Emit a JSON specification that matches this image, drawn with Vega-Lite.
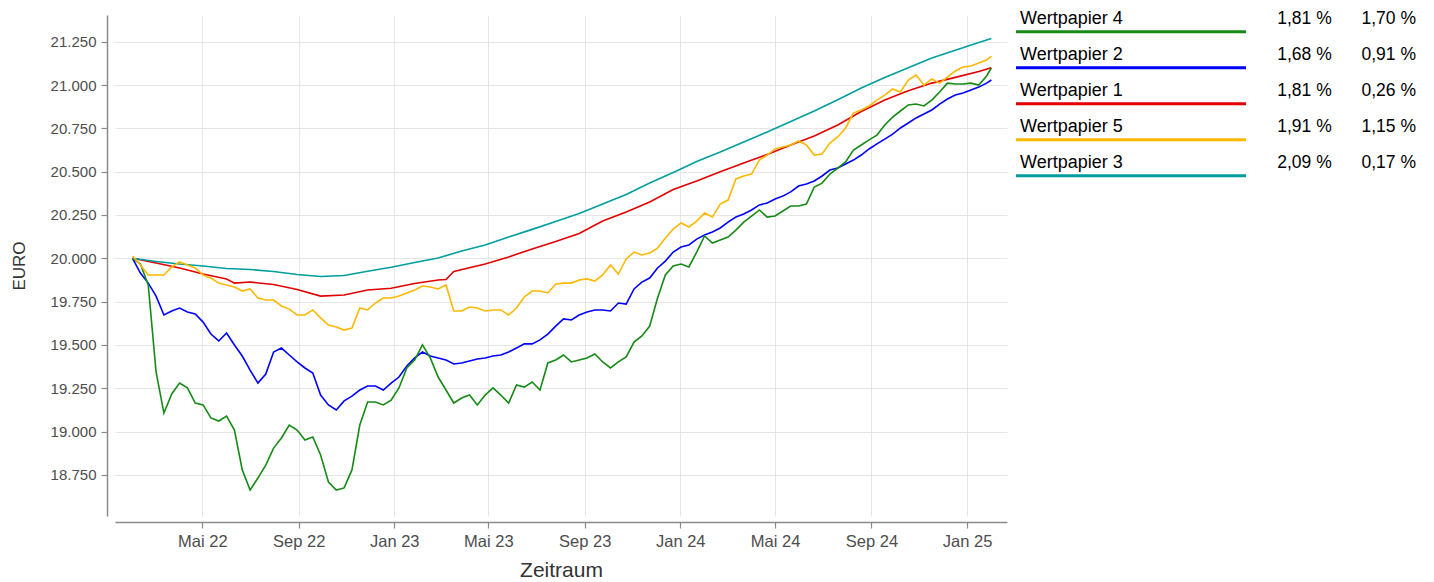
{
  "$schema": "https://vega.github.io/schema/vega-lite/v6.json",
  "autosize": {"type": "none"},
  "width": 892,
  "height": 501,
  "padding": {"left": 115, "top": 15, "right": 427, "bottom": 66},
  "background": "white",
  "config": {
    "view": {"stroke": null},
    "locale": {
      "number": {"decimal": ",", "thousands": ".", "grouping": [3], "currency": ["", " €"]},
      "time": {
        "dateTime": "%A, der %e. %B %Y, %X",
        "date": "%d.%m.%Y",
        "time": "%H:%M:%S",
        "periods": ["AM", "PM"],
        "days": ["Sonntag", "Montag", "Dienstag", "Mittwoch", "Donnerstag", "Freitag", "Samstag"],
        "shortDays": ["So", "Mo", "Di", "Mi", "Do", "Fr", "Sa"],
        "months": ["Januar", "Februar", "März", "April", "Mai", "Juni", "Juli", "August", "September", "Oktober", "November", "Dezember"],
        "shortMonths": ["Jan", "Feb", "Mär", "Apr", "Mai", "Jun", "Jul", "Aug", "Sep", "Okt", "Nov", "Dez"]
      }
    },
    "axis": {
      "domainColor": "#8a8a8a",
      "domainWidth": 1.5,
      "tickColor": "#8a8a8a",
      "tickWidth": 1.2,
      "tickSize": 6,
      "gridColor": "#e6e6e6",
      "gridWidth": 1,
      "labelFont": "Liberation Sans",
      "labelColor": "#4d4d4d",
      "titleFont": "Liberation Sans",
      "titleFontWeight": "normal",
      "titleColor": "#333333"
    },
    "text": {"font": "Liberation Sans"}
  },
  "datasets": {
    "kurse": [
      {"d":"2022-02-01","w4":20000,"w2":20000,"w5":20013,"w1":20000,"w3":20000},
      {"d":"2022-02-11","w4":19967,"w2":19915,"w5":19961},
      {"d":"2022-02-21","w4":19846,"w2":19857,"w5":19904},
      {"d":"2022-03-03","w4":19344,"w2":19782,"w5":19904,"w1":19973,"w3":19982},
      {"d":"2022-03-13","w4":19107,"w2":19673,"w5":19904},
      {"d":"2022-03-23","w4":19217,"w2":19696,"w5":19950},
      {"d":"2022-04-02","w4":19280,"w2":19713,"w5":19979,"w1":19944,"w3":19967},
      {"d":"2022-04-12","w4":19252,"w2":19690,"w5":19961},
      {"d":"2022-04-22","w4":19165,"w2":19679,"w5":19944},
      {"d":"2022-05-02","w4":19154,"w2":19632,"w5":19904,"w1":19909,"w3":19956},
      {"d":"2022-05-12","w4":19079,"w2":19563,"w5":19886},
      {"d":"2022-05-22","w4":19061,"w2":19523,"w5":19857},
      {"d":"2022-06-01","w4":19090,"w2":19569,"w5":19846,"w1":19881,"w3":19941},
      {"d":"2022-06-11","w4":19009,"w2":19500,"w5":19834,"w1":19857},
      {"d":"2022-06-21","w4":18779,"w2":19436,"w5":19811},
      {"d":"2022-07-01","w4":18663,"w2":19355,"w5":19823,"w1":19863,"w3":19935},
      {"d":"2022-07-11","w4":18732,"w2":19280,"w5":19771},
      {"d":"2022-07-21","w4":18807,"w2":19332,"w5":19759},
      {"d":"2022-07-31","w4":18905,"w2":19459,"w5":19759,"w1":19849,"w3":19924},
      {"d":"2022-08-10","w4":18963,"w2":19482,"w5":19725},
      {"d":"2022-08-20","w4":19038,"w2":19442,"w5":19707},
      {"d":"2022-08-30","w4":19009,"w2":19402,"w5":19673,"w1":19820,"w3":19907},
      {"d":"2022-09-09","w4":18952,"w2":19367,"w5":19673},
      {"d":"2022-09-19","w4":18969,"w2":19338,"w5":19702},
      {"d":"2022-09-29","w4":18865,"w2":19211,"w5":19656,"w1":19782,"w3":19895},
      {"d":"2022-10-09","w4":18709,"w2":19154,"w5":19615},
      {"d":"2022-10-19","w4":18663,"w2":19125,"w5":19604},
      {"d":"2022-10-29","w4":18675,"w2":19177,"w5":19586,"w1":19788,"w3":19901},
      {"d":"2022-11-08","w4":18779,"w2":19205,"w5":19598},
      {"d":"2022-11-18","w4":19038,"w2":19240,"w5":19713},
      {"d":"2022-11-28","w4":19171,"w2":19263,"w5":19702,"w1":19817,"w3":19925},
      {"d":"2022-12-08","w4":19171,"w2":19263,"w5":19742},
      {"d":"2022-12-18","w4":19154,"w2":19240,"w5":19771},
      {"d":"2022-12-28","w4":19182,"w2":19280,"w5":19771,"w1":19827,"w3":19948},
      {"d":"2023-01-07","w4":19252,"w2":19315,"w5":19782},
      {"d":"2023-01-17","w4":19367,"w2":19379,"w5":19800},
      {"d":"2023-01-27","w4":19413,"w2":19425,"w5":19817,"w1":19855,"w3":19976},
      {"d":"2023-02-06","w4":19500,"w2":19459,"w5":19840},
      {"d":"2023-02-16","w4":19425,"w2":19436,"w5":19834},
      {"d":"2023-02-26","w4":19315,"w2":19425,"w5":19823,"w1":19875,"w3":20002},
      {"d":"2023-03-08","w4":19240,"w2":19413,"w5":19846,"w1":19878},
      {"d":"2023-03-18","w4":19165,"w2":19390,"w5":19696,"w1":19924},
      {"d":"2023-03-28","w4":19194,"w2":19396,"w5":19696,"w3":20042},
      {"d":"2023-04-07","w4":19211,"w2":19407,"w5":19719},
      {"d":"2023-04-17","w4":19154,"w2":19419,"w5":19713},
      {"d":"2023-04-27","w4":19211,"w2":19425,"w5":19696,"w1":19967,"w3":20077},
      {"d":"2023-05-07","w4":19252,"w2":19436,"w5":19702},
      {"d":"2023-05-17","w4":19211,"w2":19442,"w5":19702},
      {"d":"2023-05-27","w4":19165,"w2":19459,"w5":19673,"w1":20008,"w3":20123},
      {"d":"2023-06-06","w4":19269,"w2":19482,"w5":19713},
      {"d":"2023-06-16","w4":19257,"w2":19506,"w5":19777},
      {"d":"2023-06-26","w4":19286,"w2":19506,"w5":19811,"w1":20054,"w3":20167},
      {"d":"2023-07-06","w4":19240,"w2":19529,"w5":19811},
      {"d":"2023-07-16","w4":19396,"w2":19563,"w5":19800},
      {"d":"2023-07-26","w4":19413,"w2":19609,"w5":19852,"w1":20097,"w3":20212},
      {"d":"2023-08-05","w4":19442,"w2":19650,"w5":19857},
      {"d":"2023-08-15","w4":19402,"w2":19644,"w5":19857},
      {"d":"2023-08-25","w4":19413,"w2":19673,"w5":19875,"w1":20143,"w3":20258},
      {"d":"2023-09-04","w4":19425,"w2":19690,"w5":19881},
      {"d":"2023-09-14","w4":19448,"w2":19702,"w5":19869},
      {"d":"2023-09-24","w4":19402,"w2":19702,"w5":19904,"w1":20215,"w3":20313},
      {"d":"2023-10-04","w4":19367,"w2":19696,"w5":19961},
      {"d":"2023-10-14","w4":19402,"w2":19742,"w5":19909},
      {"d":"2023-10-24","w4":19431,"w2":19736,"w5":19996,"w1":20267,"w3":20368},
      {"d":"2023-11-03","w4":19517,"w2":19823,"w5":20036},
      {"d":"2023-11-13","w4":19552,"w2":19863,"w5":20019},
      {"d":"2023-11-23","w4":19609,"w2":19886,"w5":20031,"w1":20325,"w3":20434},
      {"d":"2023-12-03","w4":19771,"w2":19944,"w5":20059},
      {"d":"2023-12-13","w4":19904,"w2":19984,"w5":20117},
      {"d":"2023-12-23","w4":19956,"w2":20036,"w5":20169,"w1":20397,"w3":20495},
      {"d":"2024-01-02","w4":19967,"w2":20065,"w5":20204},
      {"d":"2024-01-12","w4":19950,"w2":20077,"w5":20181},
      {"d":"2024-01-22","w4":20036,"w2":20111,"w5":20215,"w1":20446,"w3":20559},
      {"d":"2024-02-01","w4":20129,"w2":20134,"w5":20261},
      {"d":"2024-02-11","w4":20088,"w2":20152,"w5":20238},
      {"d":"2024-02-21","w4":20106,"w2":20175,"w5":20313,"w1":20500,"w3":20613},
      {"d":"2024-03-02","w4":20123,"w2":20209,"w5":20336},
      {"d":"2024-03-12","w4":20163,"w2":20238,"w5":20458},
      {"d":"2024-03-22","w4":20209,"w2":20256,"w5":20475,"w1":20550,"w3":20671},
      {"d":"2024-04-01","w4":20244,"w2":20279,"w5":20486},
      {"d":"2024-04-11","w4":20279,"w2":20308,"w5":20567},
      {"d":"2024-04-21","w4":20238,"w2":20319,"w5":20596,"w1":20599,"w3":20729},
      {"d":"2024-05-01","w4":20244,"w2":20342,"w5":20631},
      {"d":"2024-05-11","w4":20273,"w2":20359,"w5":20642},
      {"d":"2024-05-21","w4":20302,"w2":20383,"w5":20654,"w1":20654,"w3":20789},
      {"d":"2024-05-31","w4":20302,"w2":20417,"w5":20677},
      {"d":"2024-06-10","w4":20313,"w2":20429,"w5":20654},
      {"d":"2024-06-20","w4":20411,"w2":20446,"w5":20596,"w1":20706,"w3":20850},
      {"d":"2024-06-30","w4":20434,"w2":20475,"w5":20602},
      {"d":"2024-07-10","w4":20486,"w2":20509,"w5":20665},
      {"d":"2024-07-20","w4":20521,"w2":20521,"w5":20700,"w1":20769,"w3":20915},
      {"d":"2024-07-30","w4":20556,"w2":20544,"w5":20752},
      {"d":"2024-08-09","w4":20625,"w2":20567,"w5":20838},
      {"d":"2024-08-19","w4":20654,"w2":20596,"w5":20856,"w1":20847,"w3":20983},
      {"d":"2024-08-29","w4":20683,"w2":20631,"w5":20879},
      {"d":"2024-09-08","w4":20711,"w2":20660,"w5":20913},
      {"d":"2024-09-18","w4":20769,"w2":20688,"w5":20942,"w1":20913,"w3":21043},
      {"d":"2024-09-28","w4":20815,"w2":20717,"w5":20977},
      {"d":"2024-10-08","w4":20850,"w2":20752,"w5":20960},
      {"d":"2024-10-18","w4":20885,"w2":20781,"w5":21029,"w1":20967,"w3":21099},
      {"d":"2024-10-28","w4":20890,"w2":20810,"w5":21058},
      {"d":"2024-11-07","w4":20879,"w2":20833,"w5":21000},
      {"d":"2024-11-17","w4":20913,"w2":20856,"w5":21035,"w1":21011,"w3":21156},
      {"d":"2024-11-27","w4":20960,"w2":20890,"w5":21011},
      {"d":"2024-12-07","w4":21011,"w2":20919,"w5":21046},
      {"d":"2024-12-17","w4":21006,"w2":20942,"w5":21081,"w1":21044,"w3":21201},
      {"d":"2024-12-27","w4":21006,"w2":20954,"w5":21104},
      {"d":"2025-01-06","w4":21011,"w2":20971,"w5":21110},
      {"d":"2025-01-16","w4":21000,"w2":20988,"w5":21127,"w1":21078,"w3":21245},
      {"d":"2025-01-26","w4":21052,"w2":21011,"w5":21144},
      {"d":"2025-02-01","w4":21098,"w2":21029,"w5":21167,"w1":21100,"w3":21269}
    ],
    "tabelle": [
      {"key":"w4","name":"Wertpapier 4","r1":"1,81 %","r2":"1,70 %"},
      {"key":"w2","name":"Wertpapier 2","r1":"1,68 %","r2":"0,91 %"},
      {"key":"w1","name":"Wertpapier 1","r1":"1,81 %","r2":"0,26 %"},
      {"key":"w5","name":"Wertpapier 5","r1":"1,91 %","r2":"1,15 %"},
      {"key":"w3","name":"Wertpapier 3","r1":"2,09 %","r2":"0,17 %"}
    ]
  },
  "layer": [
    {
      "data": {"name": "kurse"},
      "transform": [
        {"fold": ["w1", "w2", "w3", "w4", "w5"], "as": ["key", "v"]},
        {"filter": "isValid(datum.v)"}
      ],
      "mark": {"type": "line", "strokeWidth": 1.6, "interpolate": "linear"},
      "encoding": {
        "x": {
          "field": "d", "type": "temporal",
          "scale": {"type": "utc", "domain": [{"year": 2022, "month": 1, "date": 9, "hours": 14, "utc": true}, {"year": 2025, "month": 2, "date": 21, "utc": true}], "nice": false},
          "axis": {
            "title": "Zeitraum",
            "format": "%b %y",
            "values": [
              {"year": 2022, "month": 5, "date": 1, "utc": true},
              {"year": 2022, "month": 9, "date": 1, "utc": true},
              {"year": 2023, "month": 1, "date": 1, "utc": true},
              {"year": 2023, "month": 5, "date": 1, "utc": true},
              {"year": 2023, "month": 9, "date": 1, "utc": true},
              {"year": 2024, "month": 1, "date": 1, "utc": true},
              {"year": 2024, "month": 5, "date": 1, "utc": true},
              {"year": 2024, "month": 9, "date": 1, "utc": true},
              {"year": 2025, "month": 1, "date": 1, "utc": true}
            ],
            "offset": 6,
            "labelFontSize": 16.5,
            "labelPadding": 5,
            "titleFontSize": 21,
            "titlePadding": 10,
            "labelFlush": false
          }
        },
        "y": {
          "field": "v", "type": "quantitative",
          "scale": {"domain": [18513, 21404], "nice": false, "zero": false},
          "axis": {
            "title": "EURO",
            "format": ",.0f",
            "values": [18750, 19000, 19250, 19500, 19750, 20000, 20250, 20500, 20750, 21000, 21250],
            "offset": 8,
            "labelFontSize": 15,
            "labelPadding": 5,
            "titleFontSize": 17,
            "titlePadding": 22
          }
        },
        "color": {
          "field": "key", "type": "nominal",
          "scale": {"domain": ["w1", "w2", "w3", "w4", "w5"], "range": ["#e30000", "#0000ff", "#009e9e", "#158a15", "#ffb800"]},
          "legend": null
        }
      }
    },
    {
      "data": {"name": "tabelle"},
      "encoding": {
        "y": {
          "field": "name", "type": "nominal",
          "scale": {"type": "point", "domain": ["Wertpapier 4", "Wertpapier 2", "Wertpapier 1", "Wertpapier 5", "Wertpapier 3"], "range": [16.7, 160.7], "padding": 0},
          "axis": null
        }
      },
      "layer": [
        {
          "mark": {"type": "rule", "strokeWidth": 3, "strokeCap": "butt"},
          "encoding": {
            "x": {"datum": 901, "type": "quantitative", "scale": {"domain": [0, 892], "range": [0, 892], "nice": false, "zero": false}, "axis": null},
            "x2": {"datum": 1131},
            "color": {"field": "key", "type": "nominal", "legend": null}
          }
        },
        {
          "mark": {"type": "text", "align": "left", "baseline": "alphabetic", "dy": -7.7, "fontSize": 18, "color": "#000000"},
          "encoding": {
            "x": {"datum": 905, "type": "quantitative"},
            "text": {"field": "name"}
          }
        },
        {
          "mark": {"type": "text", "align": "right", "baseline": "alphabetic", "dy": -7.7, "fontSize": 17.5, "color": "#000000"},
          "encoding": {
            "x": {"datum": 1216.7, "type": "quantitative"},
            "text": {"field": "r1"}
          }
        },
        {
          "mark": {"type": "text", "align": "right", "baseline": "alphabetic", "dy": -7.7, "fontSize": 17.5, "color": "#000000"},
          "encoding": {
            "x": {"datum": 1301, "type": "quantitative"},
            "text": {"field": "r2"}
          }
        }
      ]
    }
  ],
  "resolve": {"scale": {"x": "independent", "y": "independent"}, "axis": {"x": "independent", "y": "independent"}}
}
